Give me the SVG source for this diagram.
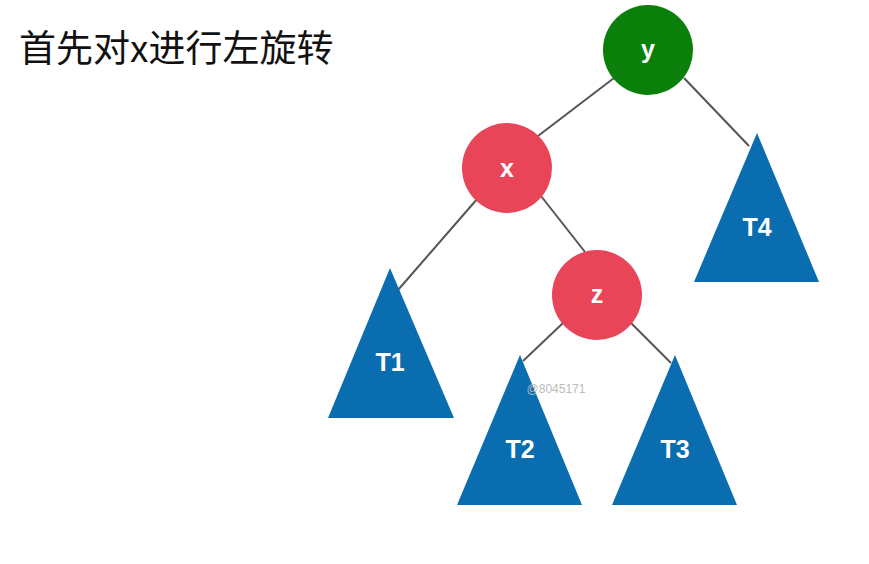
<svg xmlns="http://www.w3.org/2000/svg" width="869" height="564" viewBox="0 0 869 564">
<style>
.edge{stroke:#555;stroke-width:2;fill:none}
.lbl{font-family:"Liberation Sans",Arial,sans-serif;font-weight:bold;font-size:25px;fill:#fff;text-anchor:middle}
.tri{fill:#0a6db0}
.red{fill:#e84559}
.green{fill:#0a800a}
</style>
<rect width="869" height="564" fill="#fff"/>
<text x="19" y="62" font-family="'Noto Sans CJK SC','Liberation Sans',sans-serif" font-size="37" fill="#111">首先对x进行左旋转</text>
<g id="connectors">
<line class="edge" x1="614" y1="78" x2="538" y2="136"/>
<line class="edge" x1="684" y1="78" x2="749" y2="146"/>
<line class="edge" x1="478" y1="198" x2="398" y2="290"/>
<line class="edge" x1="541" y1="196" x2="585" y2="252"/>
<line class="edge" x1="563" y1="323" x2="523" y2="361"/>
<line class="edge" x1="631" y1="323" x2="671" y2="363"/>
</g>
<g id="node-y"><circle class="green" cx="648" cy="50" r="45"/><text class="lbl" x="648" y="58">y</text></g>
<g id="node-x"><circle class="red" cx="507" cy="168" r="45"/><text class="lbl" x="507" y="177">x</text></g>
<g id="node-z"><circle class="red" cx="597" cy="295" r="45"/><text class="lbl" x="597" y="303">z</text></g>
<g id="node-T1"><polygon class="tri" points="390,268 328,418 454,418"/><text class="lbl" x="390" y="371">T1</text></g>
<g id="node-T4"><polygon class="tri" points="757,133 694,282 819,282"/><text class="lbl" x="757" y="236">T4</text></g>
<g id="node-T2"><polygon class="tri" points="520,355 457,505 582,505"/><text class="lbl" x="520" y="458">T2</text></g>
<g id="node-T3"><polygon class="tri" points="675,355 612,505 737,505"/><text class="lbl" x="675" y="458">T3</text></g>
<text x="556" y="393" font-family="'Liberation Sans',Arial,sans-serif" font-size="12" fill="#bbb" text-anchor="middle">@8045171</text>
</svg>
